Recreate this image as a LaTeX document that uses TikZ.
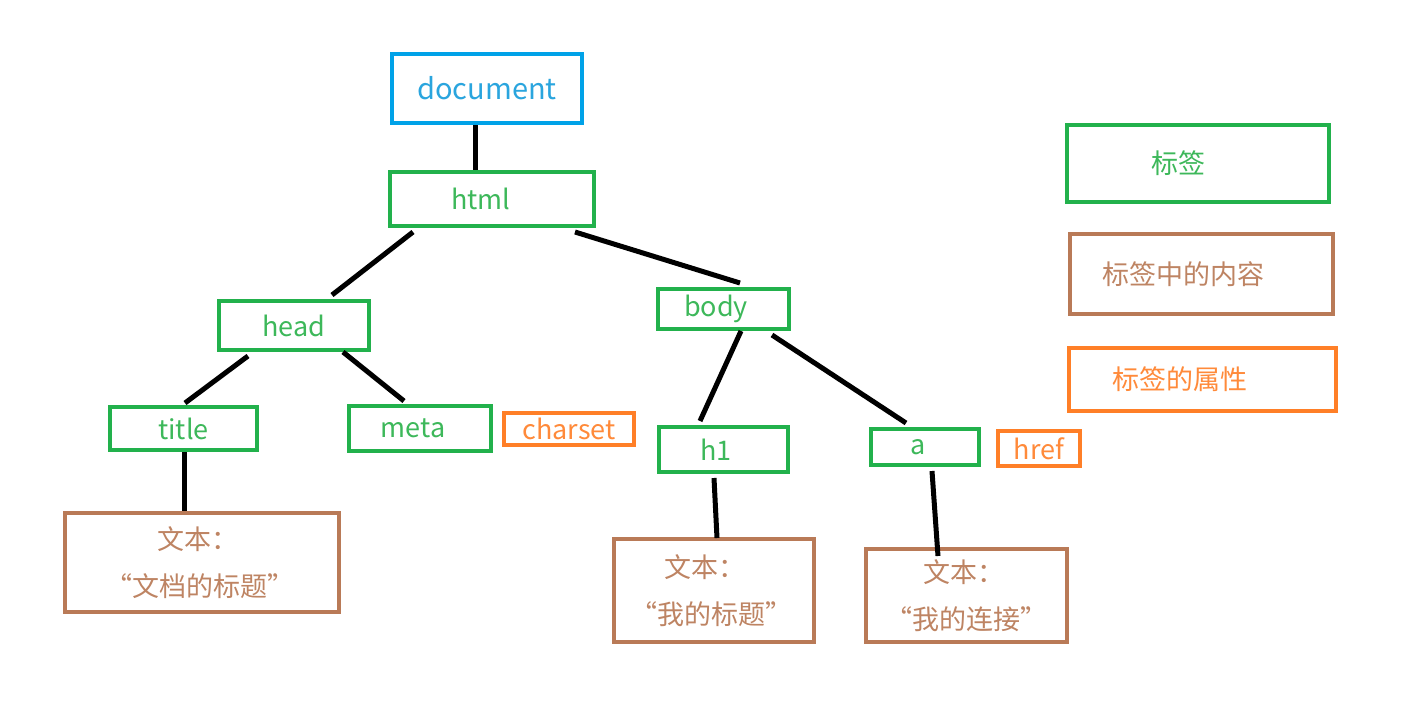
\documentclass[tikz,border=0pt]{standalone}
\usepackage{fontspec}
\setmainfont{Noto Sans CJK SC}
\definecolor{gbox}{HTML}{22B14C}
\definecolor{gtext}{HTML}{3DB85A}
\definecolor{bbox}{HTML}{00A2E8}
\definecolor{btext}{HTML}{2AA5DE}
\definecolor{brbox}{HTML}{B97A57}
\definecolor{brtext}{HTML}{BE8463}
\definecolor{obox}{HTML}{FF7F27}
\definecolor{otext}{HTML}{FF8A3A}
\newcommand{\lft}[2]{#2\hspace*{#1}}
\begin{document}
\begin{tikzpicture}[x=1pt,y=-1pt,
  box/.style={draw, line width=4pt, rectangle, inner sep=0pt, font=\fontsize{27}{32}\selectfont},
  tag/.style={box, draw=gbox, text=gtext},
  doc/.style={box, draw=bbox, text=btext, font=\fontsize{29}{34}\selectfont},
  content/.style={box, draw=brbox, text=brtext, align=center, font=\fontsize{27}{47}\selectfont},
  attr/.style={box, draw=obox, text=otext},
  cjk/.style={font=\fontsize{27}{32}\selectfont},
  conn/.style={line width=5pt, black}]
\useasboundingbox[fill=white] (0,0) rectangle (1428,705);
% nodes
\node[doc, minimum width=190pt, minimum height=69pt] (doc) at (487,88.5) {document};
\node[tag, minimum width=204pt, minimum height=54pt] (html) at (492,199) {\lft{22pt}{html}};
\node[tag, minimum width=150pt, minimum height=49pt] (head) at (294,325.5) {head};
\node[tag, minimum width=131pt, minimum height=40pt] (body) at (723.5,309) {\lft{15pt}{body}};
\node[tag, minimum width=147pt, minimum height=43pt] (title) at (183.5,428.5) {title};
\node[tag, minimum width=142pt, minimum height=45pt] (meta) at (420,428.5) {\lft{14pt}{meta}};
\node[attr, minimum width=130pt, minimum height=32pt] (charset) at (569,429) {charset};
\node[tag, minimum width=129pt, minimum height=45pt] (h1) at (723.5,449.5) {\lft{15pt}{h1}};
\node[tag, minimum width=108pt, minimum height=36pt] (a) at (925,447) {\lft{14pt}{a}};
\node[attr, minimum width=82pt, minimum height=35pt] (href) at (1039,448.5) {href};
\node[content, minimum width=274pt, minimum height=99pt] (t1) at (202,562.5) {\lft{8pt}{文本：}\\\lft{4pt}{“文档的标题”}};
\node[content, minimum width=200pt, minimum height=103pt] (t2) at (714,590.5) {\lft{18pt}{文本：}\\\lft{6pt}{“我的标题”}};
\node[content, minimum width=201pt, minimum height=93pt] (t3) at (966.5,595.5) {\lft{6pt}{文本：}\\“我的连接”};
% legend
\node[tag, cjk, minimum width=262pt, minimum height=77pt] (L1) at (1198,163.5) {\lft{40pt}{标签}};
\node[content, cjk, minimum width=263pt, minimum height=80pt] (L2) at (1201.5,274) {\lft{37pt}{标签中的内容}};
\node[attr, cjk, minimum width=267pt, minimum height=63pt] (L3) at (1202.5,379.5) {\lft{45pt}{标签的属性}};
% connectors
\draw[conn] ([xshift=-12pt]doc.south) -- ([xshift=-12pt]doc.south |- html.north);
\draw[conn] ([xshift=-79pt,yshift=-4pt]html.south) -- ([xshift=38pt,yshift=4pt]head.north);
\draw[conn] ([xshift=83pt,yshift=-4pt]html.south) -- ([xshift=16.5pt,yshift=4pt]body.north);
\draw[conn] ([xshift=-46pt,yshift=-4pt]head.south) -- ([xshift=1.5pt,yshift=2pt]title.north);
\draw[conn] ([xshift=49pt]head.south) -- ([xshift=-16pt,yshift=3pt]meta.north);
\draw[conn] ([xshift=0.5pt]title.south) -- ([xshift=0.5pt]title.south |- t1.north);
\draw[conn] ([xshift=17.5pt]body.south) -- ([xshift=-23.5pt,yshift=4pt]h1.north);
\draw[conn] ([xshift=48.5pt,yshift=-4pt]body.south) -- ([xshift=-19pt,yshift=4pt]a.north);
\draw[conn] ([xshift=-9.5pt,yshift=-4pt]h1.south) -- ([xshift=3pt,yshift=-1pt]t2.north);
\draw[conn] ([xshift=7pt,yshift=-4pt]a.south) -- ([xshift=-28.5pt,yshift=-9pt]t3.north);
\end{tikzpicture}
\end{document}
